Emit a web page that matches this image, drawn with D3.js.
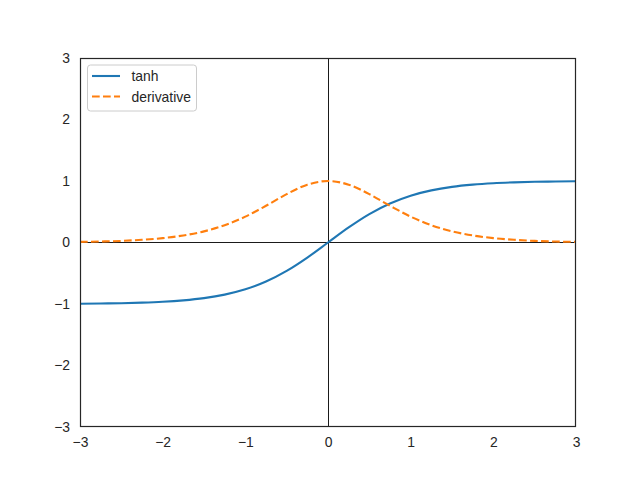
<!DOCTYPE html>
<html>
<head>
<meta charset="utf-8">
<script src="https://cdn.jsdelivr.net/npm/d3@7"></script>
<style>
  body { margin: 0; background: #fff; }
  text { font-family: "Liberation Sans", Arial, sans-serif; }
</style>
</head>
<body>
<script>
// values, x from -3 to 3 every 0.25
var xs = [-3, -2.75, -2.5, -2.25, -2, -1.75, -1.5, -1.25, -1, -0.75, -0.5, -0.25, 0,
          0.25, 0.5, 0.75, 1, 1.25, 1.5, 1.75, 2, 2.25, 2.5, 2.75, 3];
var tanhVals = [-0.995, -0.992, -0.987, -0.978, -0.964, -0.941, -0.905, -0.848, -0.762, -0.635, -0.462, -0.245, 0,
                0.245, 0.462, 0.635, 0.762, 0.848, 0.905, 0.941, 0.964, 0.978, 0.987, 0.992, 0.995];
var derivVals = [0.010, 0.016, 0.026, 0.044, 0.071, 0.115, 0.181, 0.281, 0.420, 0.597, 0.786, 0.940, 1.0,
                 0.940, 0.786, 0.597, 0.420, 0.281, 0.181, 0.115, 0.071, 0.044, 0.026, 0.016, 0.010];
var xTicks = [-3, -2, -1, 0, 1, 2, 3];
var yTicks = [-3, -2, -1, 0, 1, 2, 3];
var seriesNames = ["tanh", "derivative"];

// Set the dimensions of the canvas / graph
var margin = {top: 58, right: 64, bottom: 53, left: 80},
    width = 640 - margin.left - margin.right,
    height = 480 - margin.top - margin.bottom;

var x = d3.scaleLinear().domain([-3, 3]).range([0, width]);
var y = d3.scaleLinear().domain([-3, 3]).range([height, 0]);

var svg = d3.select("body")
    .append("svg")
        .attr("width", 640)
        .attr("height", 480)
    .append("g")
        .attr("transform", "translate(" + margin.left + "," + margin.top + ")");

// zero lines
svg.append("line")
    .attr("x1", 0).attr("x2", width)
    .attr("y1", y(0)).attr("y2", y(0))
    .style("stroke", "#1a1a1a").style("stroke-width", 1);
svg.append("line")
    .attr("x1", x(0) + 0.5).attr("x2", x(0) + 0.5)
    .attr("y1", 0).attr("y2", height)
    .style("stroke", "#1a1a1a").style("stroke-width", 1);

var plotline = d3.line()
    .x(function(d) { return x(d[0]); })
    .y(function(d) { return y(d[1]); })
    .curve(d3.curveMonotoneX);

var series = [
  {name: seriesNames[0], vals: tanhVals, color: "#1f77b4", dash: null},
  {name: seriesNames[1], vals: derivVals, color: "#ff7f0e", dash: "7.7,3.3"}
];

series.forEach(function(s) {
    svg.append("path")
        .attr("d", plotline(xs.map(function(v, i) { return [v, s.vals[i]]; })))
        .style("fill", "none")
        .style("stroke", s.color)
        .style("stroke-width", 2.1)
        .style("stroke-dasharray", s.dash);
});

// Add the X Axis
var xAxis = svg.append("g")
    .attr("transform", "translate(0," + height + ")")
    .call(d3.axisBottom(x).tickValues(xTicks).tickSize(0).tickPadding(10)
        .tickFormat(function(d) { return d < 0 ? "\u2212" + Math.abs(d) : d; }));

// Add the Y Axis
var yAxis = svg.append("g")
    .call(d3.axisLeft(y).tickValues(yTicks).tickSize(0).tickPadding(10)
        .tickFormat(function(d) { return d < 0 ? "\u2212" + Math.abs(d) : d; }));

[xAxis, yAxis].forEach(function(a) {
    a.select(".domain").remove();
    a.selectAll("text").style("font-size", "13.9px").style("fill", "#262626")
        .style("font-family", "'Liberation Sans', Arial, sans-serif");
});

// frame
svg.append("rect")
    .attr("x", 0.5).attr("y", 0.5)
    .attr("width", width - 1).attr("height", height - 1)
    .style("fill", "none").style("stroke", "#262626").style("stroke-width", 1.2);

// Add the Legend
var legend = svg.append("g").attr("transform", "translate(7.5,7)");
legend.append("rect")
    .attr("width", 109).attr("height", 46)
    .attr("rx", 3).attr("ry", 3)
    .style("fill", "#fff").style("fill-opacity", 0.8)
    .style("stroke", "#ccc").style("stroke-width", 1);

series.forEach(function(s, i) {
    var yy = 11 + i * 20.5;
    legend.append("line")
        .attr("x1", 4.5).attr("x2", 32.5)
        .attr("y1", yy).attr("y2", yy)
        .style("stroke", s.color).style("stroke-width", 2.1)
        .style("stroke-dasharray", s.dash);
    legend.append("text")
        .attr("x", 44).attr("y", yy + 5)
        .style("font-size", "13.9px").style("fill", "#262626")
        .text(s.name);
});
</script>
</body>
</html>
